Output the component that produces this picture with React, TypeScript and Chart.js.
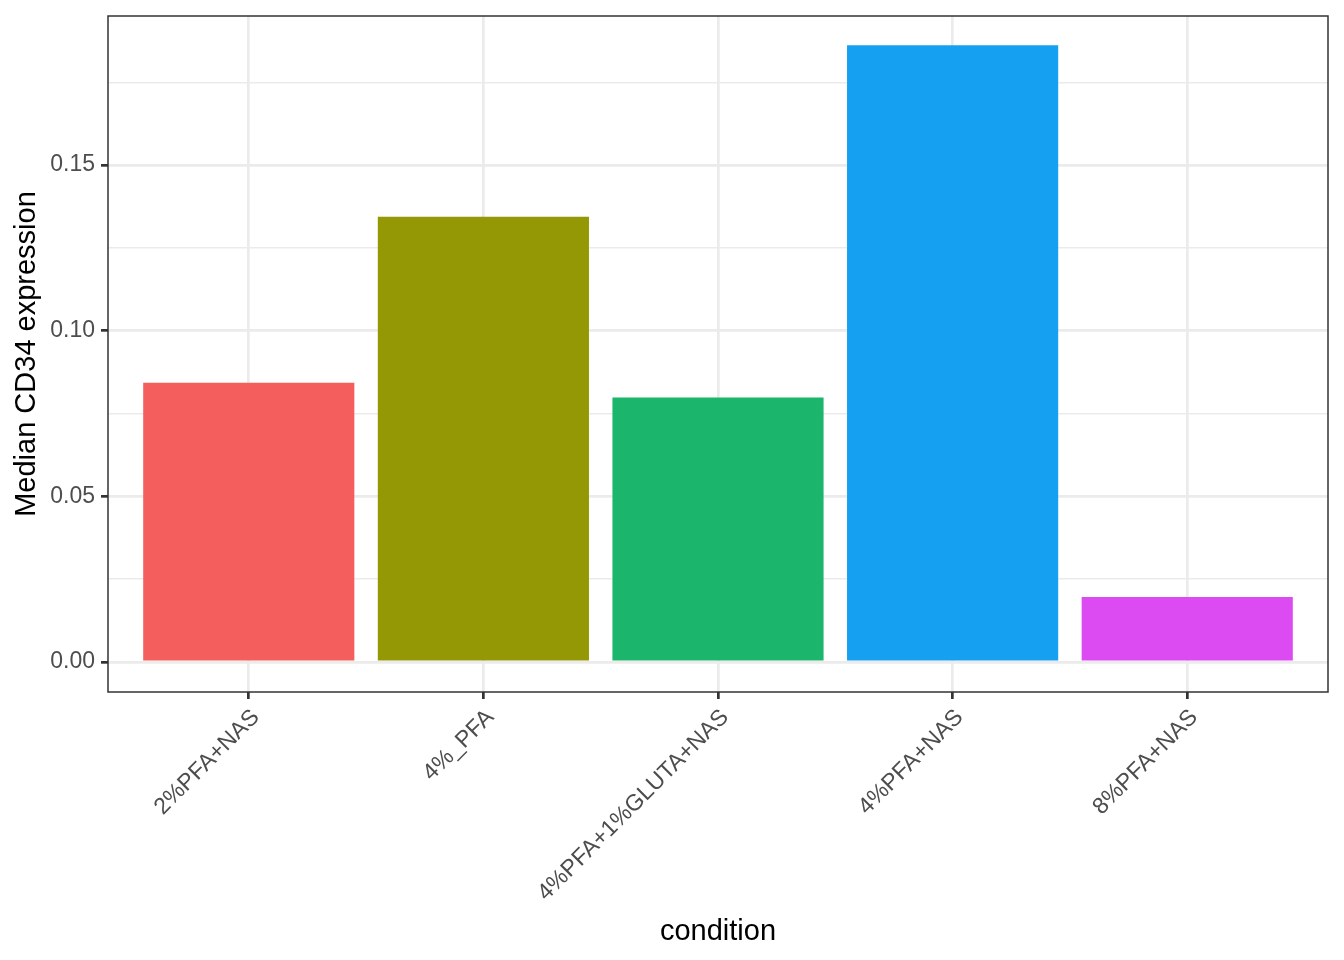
import { Chart, registerables } from "chart.js";
import { useEffect, useRef } from "react";
Chart.register(...registerables);

const categories = ["2%PFA+NAS", "4%_PFA", "4%PFA+1%GLUTA+NAS", "4%PFA+NAS", "8%PFA+NAS"];
const medianCD34 = [0.0843, 0.1344, 0.0798, 0.1862, 0.0196];
const barColors = ["#F45F5E", "#939804", "#1BB66B", "#16A0F1", "#DC4AF2"];
const yTicks = [0, 0.025, 0.05, 0.075, 0.1, 0.125, 0.15, 0.175];
const yMin = -0.0091;
const yMax = 0.195;

const FONT = "'Liberation Sans', Arial, Helvetica, sans-serif";

// ggplot theme_bw style panel border
const panelBorder = {
  id: "panelBorder",
  afterDatasetsDraw(chart: Chart) {
    const { ctx, chartArea } = chart;
    ctx.save();
    ctx.strokeStyle = "#333333";
    ctx.lineWidth = 1.5;
    ctx.strokeRect(chartArea.left, chartArea.top, chartArea.right - chartArea.left, chartArea.bottom - chartArea.top);
    ctx.restore();
  },
};

const App = () => {
  const ref = useRef<null | HTMLCanvasElement>(null);
  useEffect(() => {
    if (!ref.current) return;
    const ctx = ref.current.getContext("2d");
    if (!ctx) throw new Error("Canvas Error: Ctx not available");
    const chart = new Chart(ctx, {
      type: "bar",
      data: {
        datasets: [
          {
            data: categories.map((c, i) => ({ x: i, y: medianCD34[i] })) as any,
            backgroundColor: barColors,
            borderWidth: 0,
            categoryPercentage: 0.9,
            barPercentage: 1.0,
          },
        ],
      },
      plugins: [panelBorder],
      options: {
        responsive: false,
        animation: false,
        devicePixelRatio: 1,
        layout: { padding: { top: 16, right: 16, left: 0, bottom: 0 } },
        plugins: { legend: { display: false }, tooltip: { enabled: false } },
        scales: {
          x: {
            type: "linear",
            min: -0.6,
            max: 4.6,
            offset: false,
            afterBuildTicks: (scale: any) => {
              scale.ticks = categories.map((_, i) => ({ value: i }));
            },
            afterFit: (scale: any) => {
              scale.height = 268;
              scale.paddingLeft = 0;
              scale.paddingRight = 0;
            },
            ticks: {
              autoSkip: false,
              minRotation: 45,
              maxRotation: 45,
              padding: 5,
              labelOffset: 7,
              color: "#4D4D4D",
              font: { family: FONT, size: 23 },
              callback: (_v: any, i: number) => categories[i],
            },
            grid: {
              offset: false,
              color: "#EBEBEB",
              lineWidth: 2.7,
              tickColor: "#333333",
              tickWidth: 2.7,
              tickLength: 7,
            },
            border: { display: false },
            title: {
              display: true,
              text: "condition",
              color: "#000000",
              font: { family: FONT, size: 29 },
              padding: { top: 0, bottom: 11 },
            },
          },
          y: {
            type: "linear",
            min: yMin,
            max: yMax,
            afterBuildTicks: (scale: any) => {
              scale.ticks = yTicks.map((v) => ({ value: v }));
            },
            afterFit: (scale: any) => {
              scale.width = 108;
              scale.paddingTop = 0;
              scale.paddingBottom = 0;
            },
            ticks: {
              autoSkip: false,
              padding: 6,
              color: "#4D4D4D",
              font: { family: FONT, size: 23 },
              callback: (_v: any, i: number) => (i % 2 === 0 ? yTicks[i].toFixed(2) : ""),
            },
            grid: {
              color: "#EBEBEB",
              lineWidth: (c: any) => (c.index % 2 === 0 ? 2.7 : 1.4),
              tickColor: (c: any) => (c.index % 2 === 0 ? "#333333" : "rgba(0,0,0,0)"),
              tickWidth: 2.7,
              tickLength: 7,
            },
            border: { display: false },
            title: {
              display: true,
              text: "Median CD34 expression",
              color: "#000000",
              font: { family: FONT, size: 29 },
              padding: { top: 9.5, bottom: 0 },
            },
          },
        },
      },
    });
    return () => chart.destroy();
  }, []);

  return (
    <div style={{ position: "absolute", left: 0, top: 0, width: 1344, height: 960, background: "#FFFFFF" }}>
      <canvas ref={ref} width={1344} height={960} style={{ display: "block" }}></canvas>
    </div>
  );
};

export default App;
